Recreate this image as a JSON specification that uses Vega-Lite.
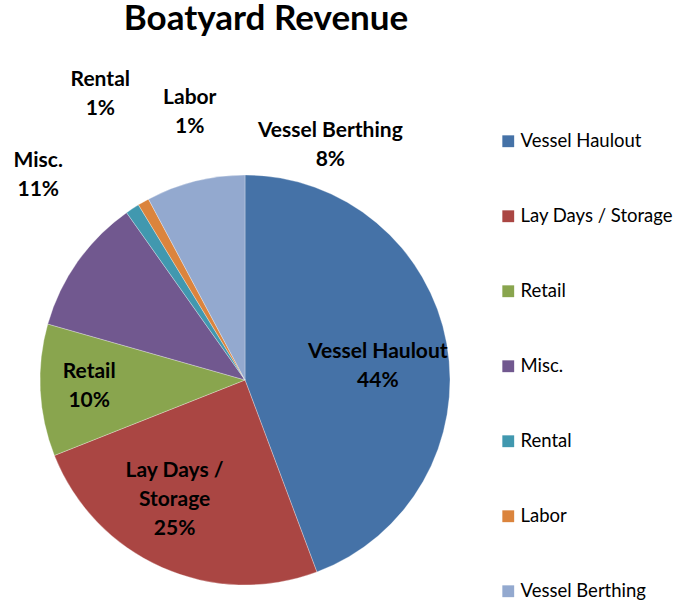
{
  "$schema": "https://vega.github.io/schema/vega-lite/v6.json",
  "autosize": {"type": "none"},
  "width": 490,
  "height": 446,
  "padding": {"left": 0, "top": 157, "right": 205, "bottom": 0},
  "background": "white",
  "title": {
    "text": "Boatyard Revenue",
    "font": "Lato",
    "fontSize": 35,
    "fontWeight": "bold",
    "color": "black",
    "anchor": "middle",
    "baseline": "alphabetic",
    "offset": 2,
    "dx": 21,
    "dy": 41
  },
  "data": {
    "values": [
      {"category": "Vessel Haulout", "value": 44.3, "rank": 1, "label": "Vessel Haulout\n44%"},
      {"category": "Lay Days / Storage", "value": 24.7, "rank": 2, "label": "Lay Days /\nStorage\n25%"},
      {"category": "Retail", "value": 10.4, "rank": 3, "label": "Retail\n10%"},
      {"category": "Misc.", "value": 10.8, "rank": 4, "label": "Misc.\n11%"},
      {"category": "Rental", "value": 1.1, "rank": 5, "label": "Rental\n1%"},
      {"category": "Labor", "value": 0.9, "rank": 6, "label": "Labor\n1%"},
      {"category": "Vessel Berthing", "value": 7.8, "rank": 7, "label": "Vessel Berthing\n8%"}
    ]
  },
  "encoding": {
    "theta": {"field": "value", "type": "quantitative", "stack": true, "scale": {"domain": [0, 100]}},
    "order": {"field": "rank", "type": "ordinal"}
  },
  "layer": [
    {
      "mark": {"type": "arc", "outerRadius": 205, "stroke": "white", "strokeWidth": 0.3},
      "encoding": {
        "color": {
          "field": "category",
          "type": "nominal",
          "sort": ["Vessel Haulout", "Lay Days / Storage", "Retail", "Misc.", "Rental", "Labor", "Vessel Berthing"],
          "scale": {
            "domain": ["Vessel Haulout", "Lay Days / Storage", "Retail", "Misc.", "Rental", "Labor", "Vessel Berthing"],
            "range": ["#4572A7", "#AA4643", "#89A54E", "#71588F", "#4198AF", "#DB843D", "#93A9CF"]
          },
          "legend": {
            "title": null,
            "orient": "none",
            "legendX": 499,
            "legendY": -25,
            "symbolType": "square",
            "symbolSize": 140,
            "symbolStrokeWidth": 0,
            "labelFont": "Lato",
            "labelFontSize": 18.5,
            "labelColor": "black",
            "labelOffset": 3,
            "rowPadding": 56,
            "padding": 0,
            "labelLimit": 300
          }
        }
      }
    },
    {
      "mark": {"type": "text", "radius": 135, "dy": -3.5, "font": "Lato", "fontSize": 21, "fontWeight": "bold", "lineBreak": "\n", "lineHeight": 29, "align": "center", "baseline": "middle", "color": "black"},
      "encoding": {"detail": {"field": "category"}, "text": {"condition": {"test": "datum.category === 'Vessel Haulout'", "field": "label"}, "value": ""}}
    },
    {
      "mark": {"type": "text", "radius": 139, "dx": -14, "dy": -36, "font": "Lato", "fontSize": 21, "fontWeight": "bold", "lineBreak": "\n", "lineHeight": 29, "align": "center", "baseline": "middle", "color": "black"},
      "encoding": {"detail": {"field": "category"}, "text": {"condition": {"test": "datum.category === 'Lay Days / Storage'", "field": "label"}, "value": ""}}
    },
    {
      "mark": {"type": "text", "radius": 156, "dy": -15.5, "font": "Lato", "fontSize": 21, "fontWeight": "bold", "lineBreak": "\n", "lineHeight": 29, "align": "center", "baseline": "middle", "color": "black"},
      "encoding": {"detail": {"field": "category"}, "text": {"condition": {"test": "datum.category === 'Retail'", "field": "label"}, "value": ""}}
    },
    {
      "mark": {"type": "text", "radius": 290, "dx": 30, "dy": -51.5, "font": "Lato", "fontSize": 21, "fontWeight": "bold", "lineBreak": "\n", "lineHeight": 29, "align": "center", "baseline": "middle", "color": "black"},
      "encoding": {"detail": {"field": "category"}, "text": {"condition": {"test": "datum.category === 'Misc.'", "field": "label"}, "value": ""}}
    },
    {
      "mark": {"type": "text", "radius": 320, "dx": 31, "dy": -32.5, "font": "Lato", "fontSize": 21, "fontWeight": "bold", "lineBreak": "\n", "lineHeight": 29, "align": "center", "baseline": "middle", "color": "black"},
      "encoding": {"detail": {"field": "category"}, "text": {"condition": {"test": "datum.category === 'Rental'", "field": "label"}, "value": ""}}
    },
    {
      "mark": {"type": "text", "radius": 275, "dx": 81, "dy": -43.5, "font": "Lato", "fontSize": 21, "fontWeight": "bold", "lineBreak": "\n", "lineHeight": 29, "align": "center", "baseline": "middle", "color": "black"},
      "encoding": {"detail": {"field": "category"}, "text": {"condition": {"test": "datum.category === 'Labor'", "field": "label"}, "value": ""}}
    },
    {
      "mark": {"type": "text", "radius": 250, "dx": 146, "dy": -6.5, "font": "Lato", "fontSize": 21, "fontWeight": "bold", "lineBreak": "\n", "lineHeight": 29, "align": "center", "baseline": "middle", "color": "black"},
      "encoding": {"detail": {"field": "category"}, "text": {"condition": {"test": "datum.category === 'Vessel Berthing'", "field": "label"}, "value": ""}}
    }
  ],
  "config": {"view": {"stroke": null}}
}
